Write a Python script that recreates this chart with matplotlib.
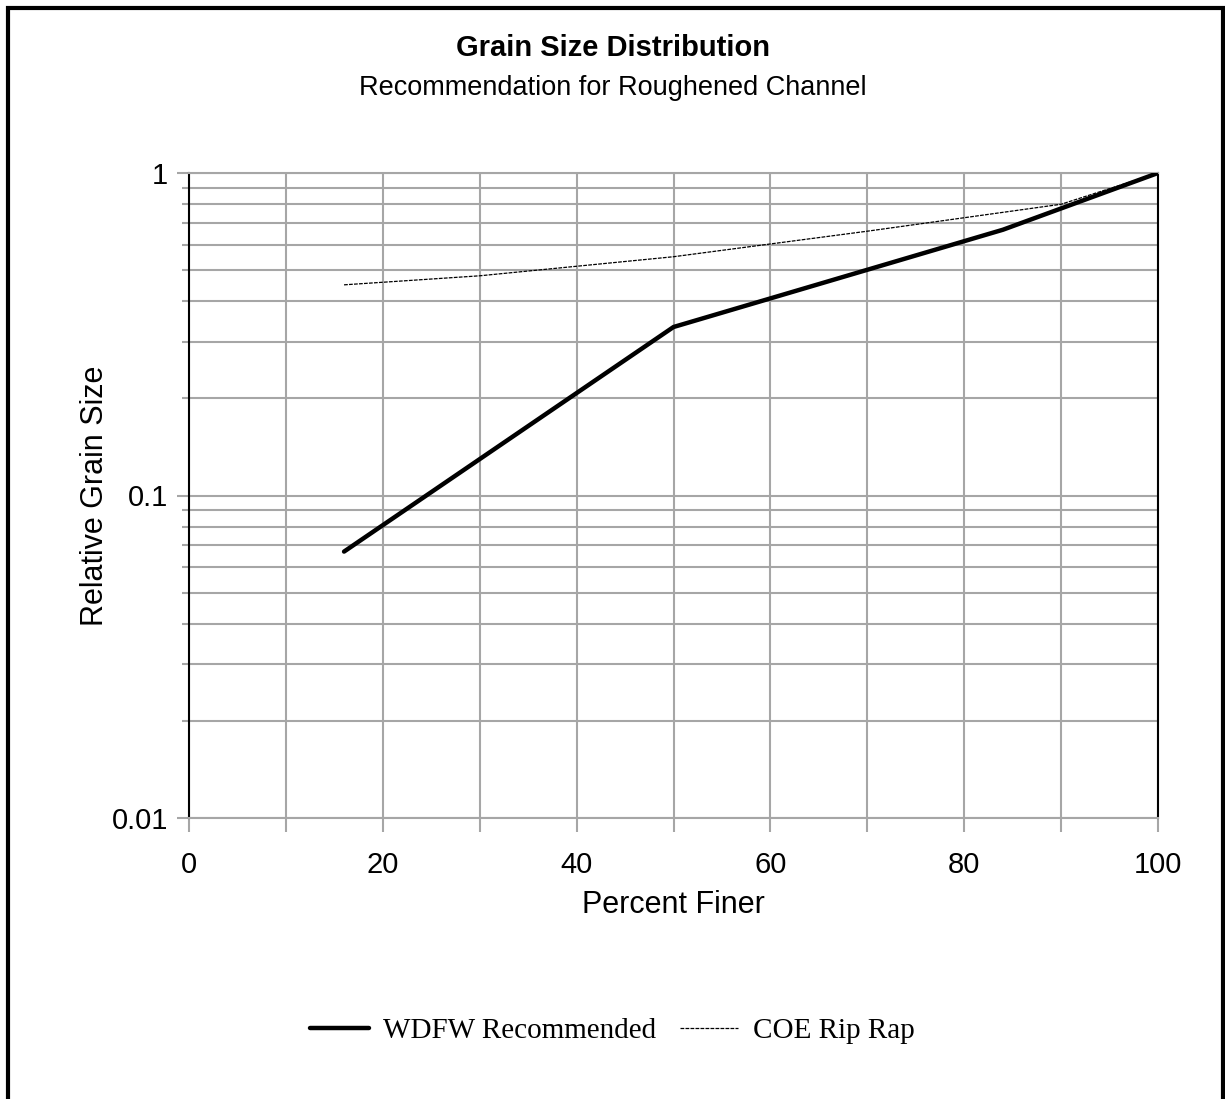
import numpy as np
import matplotlib.pyplot as plt
from matplotlib.patches import Rectangle
from matplotlib.ticker import LogLocator, NullFormatter, FixedLocator

# data
wdfw_pct = [16, 50, 84, 100]
wdfw_size = [0.067, 0.333, 0.667, 1.0]

coe_pct = [16, 30, 50, 70, 90, 100]
coe_size = [0.45, 0.48, 0.55, 0.66, 0.80, 1.0]

x_ticks = [0, 20, 40, 60, 80, 100]
y_ticks = [0.01, 0.1, 1]
y_labels = ['0.01', '0.1', '1']

plt.rcParams['font.family'] = ['Liberation Sans', 'DejaVu Sans']

fig = plt.figure(figsize=(12.25, 10.99), dpi=100)
ax = fig.add_axes([189/1225, 1 - 818/1099, (1158-189)/1225, (818-173)/1099])

grid_c = '#a6a6a6'
ax.plot(wdfw_pct, wdfw_size, color='black', lw=3.2, solid_capstyle='round',
        label='WDFW Recommended', zorder=4)
ax.plot(coe_pct, coe_size, color='black', lw=0.9, ls=(0, (3, 1)),
        label='COE Rip Rap', zorder=3)

ax.set_yscale('log')
ax.set_xlim(0, 100)
ax.set_ylim(0.01, 1)

ax.xaxis.set_major_locator(FixedLocator(x_ticks))
ax.xaxis.set_minor_locator(FixedLocator([10, 30, 50, 70, 90]))
ax.set_xticklabels([str(t) for t in x_ticks])
ax.yaxis.set_major_locator(FixedLocator(y_ticks))
ax.set_yticklabels(y_labels)
ax.yaxis.set_minor_locator(LogLocator(base=10, subs=np.arange(2, 10)))
ax.yaxis.set_minor_formatter(NullFormatter())

ax.grid(True, which='both', color=grid_c, lw=1.5)
ax.set_axisbelow(True)

ax.tick_params(axis='x', which='both', length=10, width=1.5, color=grid_c,
               labelsize=21, pad=14)
ax.tick_params(axis='y', which='major', length=9, width=1.5, color=grid_c,
               labelsize=21, pad=6)
ax.tick_params(axis='y', which='minor', length=5, width=1.5, color=grid_c)

for s in ['top', 'bottom']:
    ax.spines[s].set_color(grid_c)
    ax.spines[s].set_linewidth(1.5)
for s in ['left', 'right']:
    ax.spines[s].set_color('black')
    ax.spines[s].set_linewidth(1.5)

ax.set_xlabel('Percent Finer', fontsize=22, labelpad=8)
ax.set_ylabel('Relative Grain Size', fontsize=22, labelpad=1)

fig.text(0.5, 1 - 48/1099, 'Grain Size Distribution', ha='center', va='center',
         fontsize=21, fontweight='bold')
fig.text(0.5, 1 - 88/1099, 'Recommendation for Roughened Channel', ha='center',
         va='center', fontsize=19.5)

leg = fig.legend(loc='center', bbox_to_anchor=(0.5, 1 - 1031/1099), ncol=2,
                 frameon=False, handlelength=2.0, columnspacing=0.8,
                 handletextpad=0.5,
                 prop={'family': 'Liberation Serif', 'size': 21})

# outer border of the chart area
fig.patches.append(Rectangle((8/1225, -0.02), (1223-8)/1225, 1 - 8/1099 + 0.02,
                             transform=fig.transFigure, fill=False,
                             edgecolor='black', lw=3))

fig.savefig('out.png', dpi=100)
